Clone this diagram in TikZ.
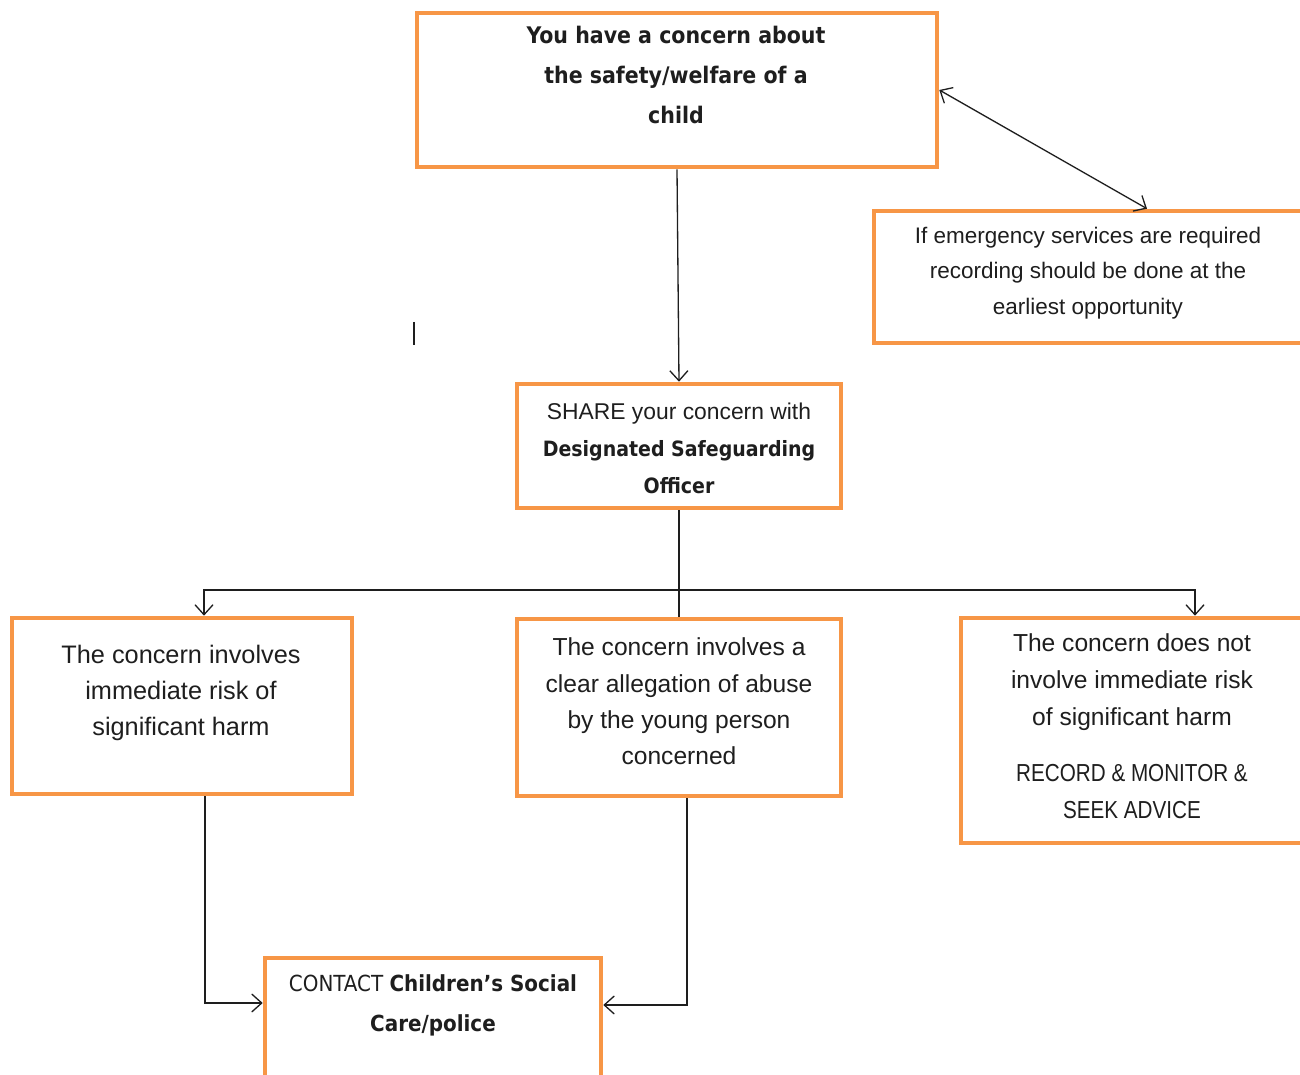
\documentclass[tikz,border=0pt]{standalone}
\usepackage{fontspec}
\setmainfont{Liberation Sans}
\newfontfamily\headfont{DejaVu Sans Condensed}
\newfontfamily\narrowfont[FakeStretch=0.84]{Liberation Sans}
\usetikzlibrary{arrows.meta}
\definecolor{boxorange}{HTML}{F79646}
\definecolor{inkgray}{HTML}{1E1E1E}

\begin{document}
\begin{tikzpicture}[
	box/.style={draw=boxorange, line width=2.6pt, inner sep=0pt},
	txt/.style={align=center, text=inkgray, font=\fontsize{14}{20.6}\selectfont},
	link/.style={line width=0.75pt, draw=inkgray},
	tip/.style={-{Straight Barb[length=2mm,width=3.6mm]}}
]
	\useasboundingbox (0,0) rectangle (26,21.5);

	\node[box, minimum width=10.4cm, minimum height=3.08cm] (concern) at (13.54,19.70) {}; %start
	\node[box, minimum width=8.58cm, minimum height=2.64cm] (emerg) at (21.77,15.96) {}; %emergency note
	\node[box, minimum width=6.48cm, minimum height=2.48cm] (share) at (13.58,12.58) {}; %dso
	\node[box, minimum width=6.8cm, minimum height=3.52cm] (harm) at (3.64,7.38) {}; %case 1
	\node[box, minimum width=6.48cm, minimum height=3.54cm] (abuse) at (13.58,7.35) {}; %case 2
	\node[box, minimum width=6.84cm, minimum height=4.5cm] (noharm) at (22.64,6.89) {}; %case 3
	\node[box, minimum width=6.72cm, minimum height=2.64cm] (contact) at (8.66,1.02) {}; %social care

	\node[txt, font=\headfont\bfseries\fontsize{13}{22.7}\selectfont] (concerntxt) at (13.52,20.0)
		{You have a concern about\\the safety/welfare of a\\child};
	\node[txt, font=\fontsize{12.8}{20.1}\selectfont] (emergtxt) at (21.76,16.04)
		{If emergency services are required\\recording should be done at the\\earliest opportunity};
	\node[txt, font=\fontsize{13}{21}\selectfont] (sharetxt) at (13.58,12.54)
		{SHARE your concern with\\{\headfont\bfseries\fontsize{12}{21}\selectfont Designated Safeguarding}\\{\headfont\bfseries\fontsize{12}{21}\selectfont Officer}};
	\node[txt, font=\fontsize{14.4}{20.6}\selectfont] (harmtxt) at (3.62,7.64)
		{The concern involves\\immediate risk of\\significant harm};
	\node[txt] (abusetxt) at (13.58,7.47)
		{The concern involves a\\clear allegation of abuse\\by the young person\\concerned};
	\node[txt, font=\fontsize{14}{21}\selectfont] (noharmtxt) at (22.64,6.98)
		{The concern does not\\involve immediate risk\\of significant harm\\[11pt]{\narrowfont RECORD \& MONITOR \&}\\{\narrowfont SEEK ADVICE}};
	\node[txt, font=\headfont\fontsize{12.6}{22.7}\selectfont] (contacttxt) at (8.66,1.40)
		{CONTACT {\bfseries Children’s Social}\\{\bfseries Care/police}};

	\coordinate (split) at (13.52,9.7);

	\draw[link, {Straight Barb[length=2mm,width=3.6mm]}-{Straight Barb[length=2mm,width=3.6mm]}]
		(concern.east) -- ([xshift=1.17cm]emerg.north);
	\draw[link, tip] (concern.south) -- (share.north);
	\draw[link] (share.south) -- (abuse.north);
	\draw[link, tip] (split) -| ([xshift=0.44cm]harm.north);
	\draw[link, tip] (split) -| ([xshift=1.26cm]noharm.north);
	\draw[link, tip] ([xshift=0.46cm]harm.south) |- ([yshift=0.42cm]contact.west);
	\draw[link, tip] ([xshift=0.16cm]abuse.south) |- ([yshift=0.38cm]contact.east);

	\draw[line width=1pt, inkgray] (8.28,15.06) -- (8.28,14.6); %cursor mark
\end{tikzpicture}
\end{document}
